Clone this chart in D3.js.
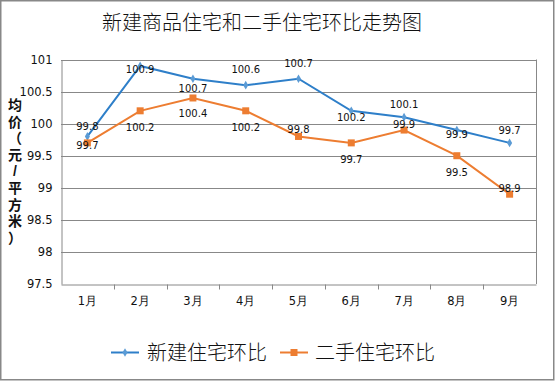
<!DOCTYPE html>
<html><head><meta charset="utf-8">
<script src="https://cdn.jsdelivr.net/npm/d3@7"></script>
<style>body{margin:0;background:#fff}svg{display:block}</style>
</head><body>
<script>
const months = ["1月","2月","3月","4月","5月","6月","7月","8月","9月"];
const newHome = [99.8,100.9,100.7,100.6,100.7,100.2,100.1,99.9,99.7];
const secondHand = [99.7,100.2,100.4,100.2,99.8,99.7,99.9,99.5,98.9];
const yTicks = [97.5,98,98.5,99,99.5,100,100.5,101];
const seriesNames = ["新建住宅环比","二手住宅环比"];
const titleText = "新建商品住宅和二手住宅环比走势图";
const yTitle = ["均","价","（","元","/","平","方","米","）"];
// label vertical offsets (layout only)
const newLabelDy = [-10,3,9,-16,-16,6,-13,4,-13];
const secLabelDy = [2,16,15,16,-7,16,-6,16,-6];

const W=555,H=381;
const svg=d3.select("body").append("svg").attr("width",W).attr("height",H);
svg.append("rect").attr("x",0.75).attr("y",0.75).attr("width",553).attr("height",379)
  .attr("fill","#fff").attr("stroke","#888").attr("stroke-width",1.5);

const L=61,R=536,T=59.5,B=284;
const x=d3.scaleBand().domain(months).range([L,R]);
const y=d3.scaleLinear().domain([97.5,101]).range([B,T]);
const font="Verdana, 'DejaVu Sans', sans-serif";
const cjk="'Noto Sans CJK SC', sans-serif";

svg.append("text").attr("x",262).attr("y",30).attr("text-anchor","middle")
  .attr("font-family",cjk).attr("font-size",20).attr("font-weight",300).attr("fill","#111").text(titleText);

// grid
const g=svg.append("g");
g.selectAll(".grid").data(yTicks.filter(t=>t>97.5)).join("line")
  .attr("x1",L).attr("x2",R).attr("y1",d=>Math.round(y(d))+0.5).attr("y2",d=>Math.round(y(d))+0.5)
  .attr("stroke","#888").attr("stroke-width",1);
g.append("line").attr("x1",R+0.5).attr("x2",R+0.5).attr("y1",T).attr("y2",B).attr("stroke","#888");

// y axis
const ya=svg.append("g").attr("transform",`translate(${L+0.5},0)`)
  .call(d3.axisLeft(y).tickValues(yTicks).tickSize(0).tickPadding(9).tickFormat(d=>String(d)));
ya.select(".domain").attr("stroke","#888");
ya.selectAll("text").attr("font-family",font).attr("font-size",11.5).attr("fill","#111");

// x axis
const xa=svg.append("g").attr("transform",`translate(0,${Math.round(B)+0.5})`)
  .call(d3.axisBottom(x).tickSize(0).tickPadding(12));
xa.select(".domain").attr("stroke","#888");
xa.selectAll("text").attr("font-family",font).attr("font-size",11.5).attr("fill","#111");
xa.selectAll(".bt").data(months.slice(1)).join("line")
  .attr("x1",d=>Math.round(x(d))+0.5).attr("x2",d=>Math.round(x(d))+0.5).attr("y1",0).attr("y2",5).attr("stroke","#888");

// y title (stacked characters)
svg.append("g").selectAll("text").data(yTitle).join("text")
  .attr("x",15).attr("y",(d,i)=>110+i*16.6).attr("text-anchor","middle")
  .attr("font-family","'Liberation Sans', 'Noto Sans CJK SC', sans-serif")
  .attr("font-weight",700).attr("font-size",14).attr("fill","#111").text(d=>d);

const cx=d=>x(d)+x.bandwidth()/2;
const line=d3.line().x((d,i)=>cx(months[i])).y(d=>y(d));
const blue="#2E7FC9", blueM="#5B9BD5", orange="#ED7D31";

svg.append("path").datum(newHome).attr("d",line).attr("fill","none").attr("stroke",blue).attr("stroke-width",2);
svg.append("path").datum(secondHand).attr("d",line).attr("fill","none").attr("stroke",orange).attr("stroke-width",2);

svg.append("g").selectAll("path").data(newHome).join("path")
  .attr("d",d3.symbol().type(d3.symbolDiamond).size(22))
  .attr("transform",(d,i)=>`translate(${cx(months[i])},${y(d)})`).attr("fill",blueM);
svg.append("g").selectAll("rect").data(secondHand).join("rect")
  .attr("x",(d,i)=>cx(months[i])-3.5).attr("y",d=>y(d)-3.5).attr("width",7).attr("height",7).attr("fill",orange);

const lab=(data,dy)=>svg.append("g").selectAll("text").data(data).join("text")
  .attr("x",(d,i)=>cx(months[i])).attr("y",(d,i)=>y(d)+dy[i]+4)
  .attr("text-anchor","middle").attr("font-family",font).attr("font-size",10).attr("fill","#111")
  .text(d=>d3.format(".1f")(d));
lab(newHome,newLabelDy);
lab(secondHand,secLabelDy);

// legend
const lg=svg.append("g");
lg.append("line").attr("x1",111).attr("x2",139).attr("y1",352.5).attr("y2",352.5).attr("stroke",blue).attr("stroke-width",2);
lg.append("path").attr("d",d3.symbol().type(d3.symbolDiamond).size(22)).attr("transform","translate(125,352.5)").attr("fill",blueM);
lg.append("text").attr("x",147).attr("y",359.5).attr("font-family",cjk).attr("font-size",20).attr("font-weight",300).attr("fill","#111").text(seriesNames[0]);
lg.append("line").attr("x1",280).attr("x2",308).attr("y1",352.5).attr("y2",352.5).attr("stroke",orange).attr("stroke-width",2);
lg.append("rect").attr("x",290.5).attr("y",349).attr("width",7).attr("height",7).attr("fill",orange);
lg.append("text").attr("x",315).attr("y",359.5).attr("font-family",cjk).attr("font-size",20).attr("font-weight",300).attr("fill","#111").text(seriesNames[1]);
</script>
</body></html>
